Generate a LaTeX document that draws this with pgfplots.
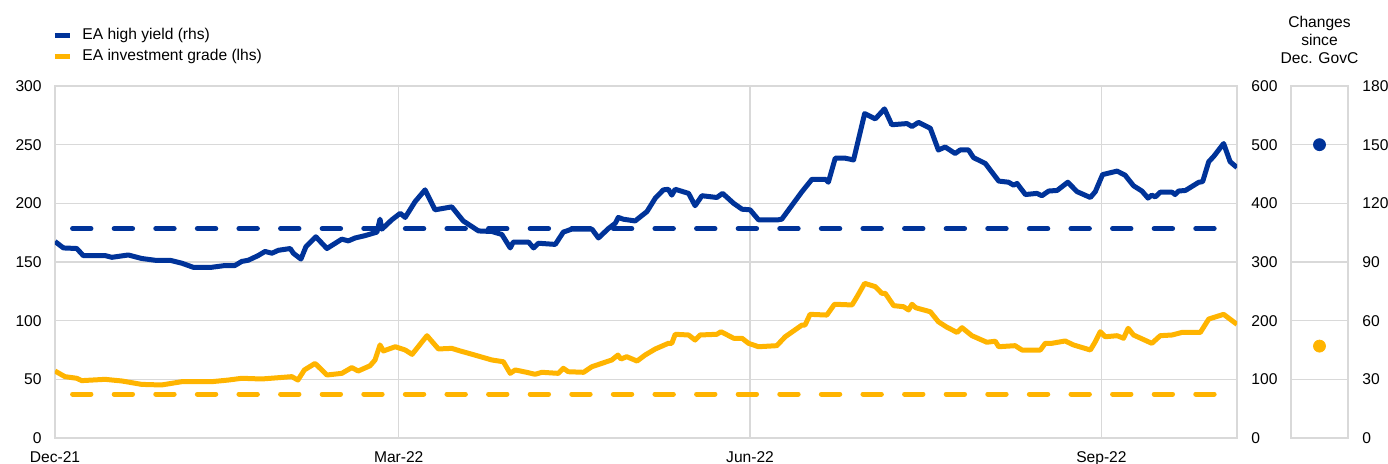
\documentclass[border=0pt]{standalone}
\usepackage{fontspec}
\setmainfont{Liberation Sans}
\usepackage{pgfplots}
\pgfplotsset{compat=1.18}
\definecolor{ecbblue}{RGB}{0,51,153}
\definecolor{ecbyellow}{RGB}{255,180,0}
\definecolor{gridgray}{RGB}{217,217,217}
\newcommand{\cf}{\fontsize{7.8}{9}\selectfont}
\pgfplotsset{
  base/.style={
    scale only axis, width=591pt, height=176pt, at={(0,0)}, anchor=south west,
    xmin=0, xmax=309.5,
    /pgf/number format/assume math mode=true,
    tick style={draw=none},
    tick label style={font=\cf},
  }
}
\begin{document}
\cf
\begin{tikzpicture}
\useasboundingbox (-27.5pt,-12.5pt) rectangle (666.5pt,219pt);
% left axis: investment grade
\begin{axis}[base, ymin=0, ymax=300, ytick={0,50,...,300},
  xtick={0,90,182,274}, xticklabels={Dec-21,Mar-22,Jun-22,Sep-22},
  xmajorgrids, ymajorgrids, grid style={gridgray, line width=0.6pt},
  axis line style={gridgray, line width=0.8pt},
  yticklabel style={anchor=east, inner sep=0pt, xshift=-6.5pt},
  xticklabel style={anchor=north, inner sep=0pt, yshift=-6.5pt},
  legend cell align=left,
  legend image code/.code={\draw[#1] (0pt,0pt) -- (7.5pt,0pt);},
  legend style={draw=none, fill=none, font=\cf, at={(0,1)}, anchor=south west,
    inner sep=0pt, xshift=-1.5pt, yshift=11pt, row sep=3pt, column sep=5pt,
    nodes={inner sep=0pt, text height=5.9pt, text depth=1.6pt}},
]
\addlegendimage{ecbblue, line width=2.5pt}
\addlegendentry{EA high yield (rhs)}
\addplot[ecbyellow, line width=2.5pt, line join=round] coordinates {
(0,57.1) (2.6,52.3) (5.7,50.9) (7.0,48.9) (13.1,50) (17.5,48.6) (22.7,45.7) (27.9,45.2) (33.2,48) (41.0,48) (45.4,49.4) (48.9,50.9) (54.1,50.3) (58.5,51.4) (62.0,52.3) (63.6,49.4) (65.3,58) (68.1,63.6) (71.2,53.7) (75.1,55.1) (77.7,60) (79.4,57.1) (82.5,61.6) (83.8,66.5) (85.1,79.3) (86.0,74.2) (89.1,77.8) (91.7,75) (93.5,71.3) (97.4,87.2) (100.4,75.9) (103.9,76.4) (106.1,74.2) (108.3,72.2) (114.4,66.5) (117.4,65) (119.2,55.1) (120.5,58) (123.5,56) (125.7,54.3) (127.5,56) (131.8,55.1) (133.1,59.4) (134.4,56.5) (138.4,56) (140.6,60.8) (145.8,66.5) (147.4,70.7) (148.2,67.3) (149.7,69.3) (152.4,65.6) (154.5,70.7) (157.2,75.9) (160.6,80.7) (161.5,80.7) (162.4,88.4) (165.9,87.8) (167.6,83.5) (168.9,87.8) (173.3,88.4) (174.4,90.6) (177.7,85) (179.9,85) (181.6,80.7) (184.2,77.8) (189.0,78.7) (191.2,86.3) (195.6,96.3) (196.4,96.3) (197.7,105.4) (202.1,104.8) (204.1,114) (208.7,113.4) (210.0,120.4) (212.0,131.8) (214.8,129) (216.5,123.3) (217.4,123.3) (219.6,112.8) (222.2,111.9) (223.5,109.1) (224.4,114) (225.4,111) (229.2,107.6) (231.3,99.1) (233.5,94.5) (236.2,90) (237.5,94) (240.1,87.2) (244.0,81.6) (246.2,82.5) (247.1,77.8) (251.4,78.7) (253.2,75) (258.0,75) (259.3,80.7) (261.0,80.7) (264.5,82.7) (266.7,79.3) (271.1,75) (272.4,82.1) (273.7,90.6) (275.0,86.3) (278.1,87.2) (279.8,85) (281.0,93.5) (282.4,87.8) (287.2,80.7) (289.4,87.2) (292.5,87.8) (295.1,90) (299.9,90) (302.1,101.4) (306.0,105.4) (309.5,96.9)
};
\addlegendentry{EA investment grade (lhs)}
\addplot[ecbyellow, line width=2.5pt, line cap=round, dash pattern=on 9.2pt off 11.6pt, forget plot] coordinates {(4.6,37.5) (304.7,37.5)};
\end{axis}
% right axis: high yield
\begin{axis}[base, ymin=0, ymax=600, ytick={0,100,...,600},
  axis y line*=right, axis x line=none, y axis line style={draw=none},
  yticklabel style={anchor=west, inner sep=0pt, xshift=7pt},
]
\addplot[ecbblue, line width=2.5pt, line cap=round, dash pattern=on 9.2pt off 11.6pt, forget plot] coordinates {(4.6,357) (304.7,357)};
\addplot[ecbblue, line width=2.5pt, line join=round] coordinates {
(0,335) (2.2,324) (5.7,323) (7.4,311) (13.1,311) (14.9,308) (19.2,312) (22.7,306) (26.2,303) (30.1,303) (33.2,298) (36.2,291) (41.0,291) (44.5,294) (47.1,294) (48.9,301) (50.6,303) (53.2,311) (55.0,318) (56.8,315) (58.5,320) (61.6,323) (62.4,315) (64.4,305) (65.7,326) (68.3,343) (71.2,323) (75.1,339) (76.8,336) (78.6,341) (81.2,345) (84.3,351) (85.1,373) (85.6,356) (88.2,372) (90.4,383) (91.7,376) (94.3,403) (96.9,423) (99.5,389) (103.9,394) (106.9,370) (110.9,353) (114.4,352) (117.0,347) (119.2,324) (120.0,334) (124.0,334) (125.3,324) (126.6,332) (131.0,330) (133.1,351) (135.3,356) (140.6,356) (142.3,341) (144.9,357) (146.7,366) (147.5,376) (148.8,373) (151.9,370) (155.0,386) (157.2,409) (159.3,423) (160.6,424) (161.5,414) (162.4,424) (165.9,417) (167.6,396) (169.4,413) (173.3,410) (174.8,417) (177.7,400) (179.9,390) (182.0,389) (184.2,372) (189.4,372) (190.3,373) (193.0,397) (195.6,420) (198.2,441) (201.7,441) (202.5,436) (204.3,477) (206.9,477) (209.1,474) (212.0,553) (214.8,544) (217.2,561) (219.1,534) (223.1,536) (224.4,531) (226.1,538) (229.2,528) (231.3,491) (233.1,496) (235.7,485) (237.0,491) (239.2,491) (240.5,478) (243.6,468) (247.1,438) (249.7,436) (251.0,431) (251.9,434) (254.1,415) (257.1,417) (258.4,413) (260.2,421) (262.4,422) (265.2,436) (267.6,420) (271.1,410) (272.4,420) (274.3,449) (278.1,455) (280.2,448) (282.4,430) (284.6,421) (286.2,409) (287.2,414) (288.1,411) (289.4,419) (292.5,419) (293.3,415) (294.2,421) (296.0,422) (299.5,436) (300.5,437) (302.1,471) (303.4,480) (306.0,502) (307.7,471) (309.5,461)
};
\end{axis}
% changes panel
\begin{axis}[scale only axis, width=28.5pt, height=176pt, at={(618pt,0)}, anchor=south west,
  xmin=0, xmax=1, ymin=0, ymax=180, ytick={0,30,...,180}, xtick=\empty,
  yticklabel pos=right, ymajorgrids, grid style={gridgray, line width=0.6pt},
  axis line style={gridgray, line width=0.8pt}, tick style={draw=none},
  /pgf/number format/assume math mode=true,
  tick label style={font=\cf},
  yticklabel style={anchor=west, inner sep=0pt, xshift=7pt},
  title={Changes\\since\\Dec. GovC},
  title style={at={(0.5,1)}, anchor=south, align=center, inner sep=0pt, yshift=5pt, font=\cf},
]
\addplot[only marks, mark=*, mark size=3pt, ecbblue] coordinates {(0.5,150)};
\addplot[only marks, mark=*, mark size=3pt, ecbyellow] coordinates {(0.5,47)};
\end{axis}
\end{tikzpicture}
\end{document}
